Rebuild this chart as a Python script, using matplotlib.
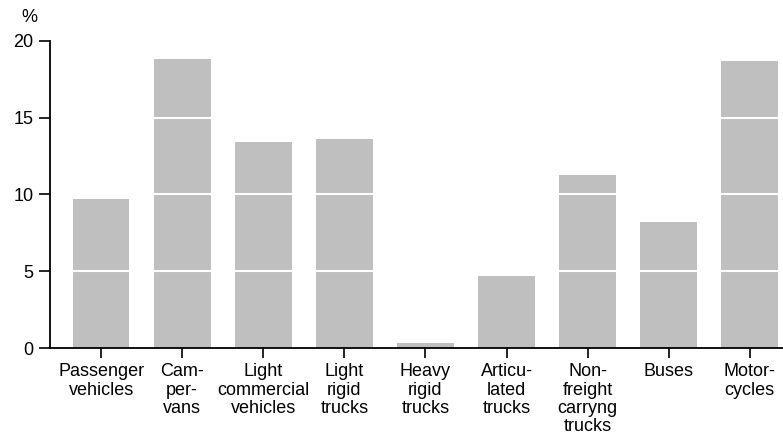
import matplotlib
matplotlib.use("Agg")
import matplotlib.pyplot as plt

categories = ["Passenger\nvehicles", "Cam-\nper-\nvans", "Light\ncommercial\nvehicles",
              "Light\nrigid\ntrucks", "Heavy\nrigid\ntrucks", "Articu-\nlated\ntrucks",
              "Non-\nfreight\ncarryng\ntrucks", "Buses", "Motor-\ncycles"]
values = [9.7, 18.8, 13.4, 13.6, 0.3, 4.7, 11.3, 8.2, 18.7]
yticks = [0, 5, 10, 15, 20]

plt.rcParams['font.family'] = ['Liberation Sans', 'DejaVu Sans']

fig = plt.figure(figsize=(7.83, 4.48), dpi=100)
ax = fig.add_axes([0.0639, 0.2232, 0.9361, 0.6853])

x = list(range(len(categories)))
ax.bar(x, values, width=0.7, color="#bfbfbf", zorder=1)
for t in yticks[1:-1]:
    ax.axhline(t, color="white", linewidth=1.5, zorder=2)

ax.set_xlim(-0.63, 8.41)
ax.set_ylim(0, 20)
ax.set_yticks(yticks)
ax.set_xticks(x)
ax.set_xticklabels(categories, fontsize=13, linespacing=1.1)
ax.tick_params(axis="y", labelsize=13, length=8, width=1.2, color="black", pad=4)
ax.tick_params(axis="x", length=7, width=1.2, pad=4)
for s in ["top", "right"]:
    ax.spines[s].set_visible(False)
ax.spines["left"].set_linewidth(1.3)
ax.spines["bottom"].set_linewidth(1.3)
fig.text(0.037, 0.962, "%", fontsize=13, ha="center", va="center")

fig.savefig("out.png", dpi=100)
